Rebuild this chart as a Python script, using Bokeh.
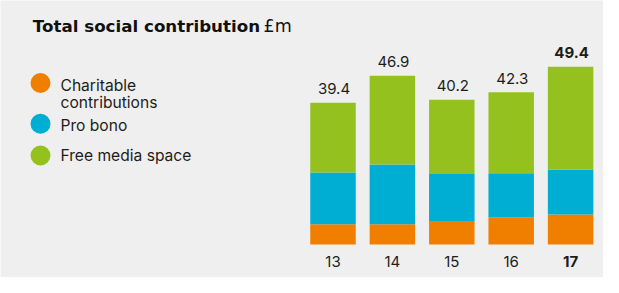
from bokeh.plotting import figure
from bokeh.models import Range1d, ColumnDataSource
from bokeh.core.properties import value
from bokeh.embed import file_html
from bokeh.resources import INLINE

# ---- data ----
years = ["13", "14", "15", "16", "17"]
charitable = [5.6, 5.6, 6.5, 7.6, 8.3]
pro_bono = [14.4, 16.6, 13.1, 12.2, 12.5]
free_media = [19.4, 24.7, 20.6, 22.5, 28.6]
totals = [39.4, 46.9, 40.2, 42.3, 49.4]
legend_lines = ["Charitable", "contributions", "Pro bono", "Free media space"]
colors = ["#f07f00", "#00aed4", "#95c11f"]

# ---- layout constants ----
W, H = 603, 277
BASE_PX = 244.0      # baseline, px from top of figure
PX_PER_UNIT = 3.6
FIRST_X, STEP, BAR_W = 332.5, 59.4, 45.5
BG = "#efefef"
FONT = "Inter"
TXT = "#1d1d1b"

def yv(px_from_top):
    return (BASE_PX - px_from_top) / PX_PER_UNIT

p = figure(width=W, height=H, output_backend="svg", toolbar_location=None,
           x_range=Range1d(0, W),
           y_range=Range1d(-(H - BASE_PX) / PX_PER_UNIT, BASE_PX / PX_PER_UNIT),
           min_border=0, outline_line_color=None,
           background_fill_color=BG, border_fill_color=BG)
p.axis.visible = False
p.grid.visible = False

xs = [FIRST_X + i * STEP for i in range(len(years))]
src = ColumnDataSource(dict(x=xs, charitable=charitable, pro_bono=pro_bono,
                            free_media=free_media, totals=totals, years=years))
p.vbar_stack(["charitable", "pro_bono", "free_media"], x="x", width=BAR_W,
             color=colors, line_color=None, source=src)

# value labels
weights = ["normal"] * (len(years) - 1) + ["bold"]
lab_y = [t + 14.1 / PX_PER_UNIT for t in totals]
p.text(x=[x + 1 for x in xs], y=lab_y, text=[f"{t:.1f}" for t in totals],
       text_font=value(FONT), text_font_size="15px", text_align="center",
       text_baseline="middle", text_color=TXT, text_font_style=weights)
# category labels
p.text(x=xs, y=[yv(260.5)] * len(years), text=years,
       text_font=value(FONT), text_font_size="15px", text_align="center",
       text_baseline="middle", text_color=TXT, text_font_style=weights)

# title
p.text(x=[32.3], y=[yv(25.0)], text=["Total social contribution"],
       text_font=value("DejaVu Sans"), text_font_size="16.7px",
       text_font_style="bold", text_baseline="middle", text_color="#111111")
p.text(x=[263], y=[yv(25.0)], text=["£m"],
       text_font=value("DejaVu Sans"), text_font_size="17.5px",
       text_baseline="middle", text_color="#111111")

# legend
mark_y = [82.5, 123.3, 155.0]
p.scatter(x=[40] * 3, y=[yv(m) for m in mark_y], size=20, color=colors,
          line_color=None)
leg_center = [85.1, 102.4, 125.4, 154.7]
p.text(x=[60] * 4, y=[yv(c) for c in leg_center], text=legend_lines,
       text_font=value(FONT), text_font_size="15.6px",
       text_baseline="middle", text_color=TXT)

open("out.html", "w").write(file_html(p, INLINE))
